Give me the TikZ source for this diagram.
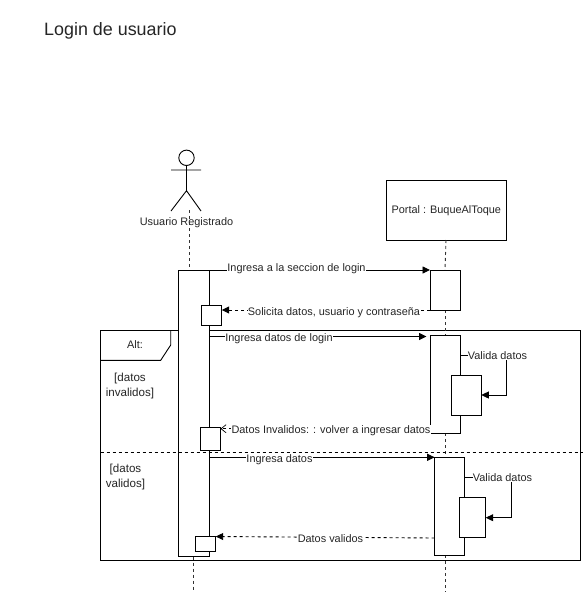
\documentclass[tikz,border=0pt]{standalone}
\usepackage{fontspec}
\setmainfont{Liberation Sans}
\usetikzlibrary{arrows.meta}
\newcommand{\mybox}[5]{\node[bx,anchor=north west,minimum width=#4pt,minimum height=#5pt] (#1) at (#2,#3) {};}
\tikzset{
  bx/.style={draw=black,fill=white,line width=0.9pt,inner sep=0pt,outer sep=0pt},
  msg/.style={draw=black,line width=0.9pt,-{Triangle[length=7.5pt,width=7pt]}},
  ret/.style={msg,dash pattern=on 3pt off 3pt},
  retopen/.style={draw=black,line width=0.8pt,dash pattern=on 3pt off 3pt,-{Straight Barb[length=5pt,width=8pt,line width=0.7pt]}},
  life/.style={draw=black!80,line width=0.9pt,dash pattern=on 3pt off 3pt},
  lbl/.style={font=\fontsize{10.9pt}{12pt}\selectfont,inner sep=0.3pt,text=black!85},
  lblw/.style={lbl,fill=white},
  cond/.style={lbl,align=center,font=\fontsize{11.6pt}{15.8pt}\selectfont}
}
\begin{document}
\begin{tikzpicture}[x=1pt,y=-1pt]
\useasboundingbox[fill=white] (0,0) rectangle (585,592);
\node[anchor=west,inner sep=0pt,font=\fontsize{17.9pt}{20pt}\selectfont,text=black!85] (title) at (44,31) {Login de usuario};
% frame
\mybox{frame}{100.5}{330.3}{480}{230}
\coordinate (tabA) at (170.7,330.3);
\coordinate (tabB) at (170.7,345);
\coordinate (tabC) at (160.7,360.3);
\coordinate (tabD) at (100.5,360.3);
\draw[line width=0.9pt] (tabA) -- (tabB) -- (tabC) -- (tabD);
\node[lbl] (alt) at (135,345) {Alt:};
\node[cond] (inv) at (130,386) {[datos\\invalidos]};
\node[cond] (val) at (125.5,477) {[datos\\validos]};
% actor
\node[draw=black,fill=white,circle,line width=0.9pt,minimum size=15.4pt,inner sep=0pt,outer sep=0pt] (head) at (186.5,157.8) {};
\coordinate (armL) at (171,170);
\coordinate (armR) at (201,170);
\coordinate (hip) at (186.5,190.7);
\coordinate (legL) at (171,211);
\coordinate (legR) at (201,211);
\draw[line width=0.9pt] (head.south) -- (hip) (armL) -- (armR) (legL) -- (hip) -- (legR);
\node[lbl] (user) at (186.5,223) {Usuario Registrado};
% portal
\mybox{portal}{386}{180}{120.5}{60}
\node[lbl] (plabel) at (446.3,210.5) {Portal : BuqueAlToque};
% lifelines
\coordinate (ut) at (189,210);
\coordinate (ub) at (189,270);
\coordinate (ue) at (193.5,590);
\coordinate (us) at (193.5,556.5);
\draw[life] (ut) -- (ub);
\draw[life] (us) -- (ue);
\coordinate (pa) at (446,240);
\coordinate (pb) at (445,270);
\coordinate (pc) at (445,310);
\coordinate (pd) at (445,335);
\coordinate (pe) at (445,433);
\coordinate (pf) at (445,457);
\coordinate (pg) at (445.5,555);
\coordinate (ph) at (445.5,592);
\draw[life] (pa) -- (pb);
\draw[life] (pc) -- (pd);
\draw[life] (pe) -- (pf);
\draw[life] (pg) -- (ph);
% activations
\mybox{ua}{178.3}{270}{30.7}{286.5}
\mybox{pa1}{430}{270}{30}{40}
\mybox{pa2}{430}{335.3}{30}{97.7}
\mybox{pa3}{434.7}{457.3}{29.8}{97.7}
\mybox{s1}{201}{305}{20.7}{20}
\mybox{s2}{200.3}{427.7}{20.2}{22.3}
\mybox{s3}{195.3}{536.3}{20.4}{15.4}
\mybox{i1}{451.3}{375.3}{30}{40.4}
\mybox{i2}{459.7}{497.3}{26}{40}
% divider
\coordinate (dl) at (100.5,452.3);
\coordinate (dr) at (583,452.3);
\draw[line width=0.8pt,dash pattern=on 3pt off 3pt] (dl) -- (dr);
% messages
\draw[msg] (ua.north east) -- (pa1.north west);
\draw[ret] (pa1.south west) -- (s1.east |- pa1.south west);
\coordinate (m3a) at (209,336.5);
\coordinate (m3b) at (426.5,336.5);
\draw[msg] (m3a) -- (m3b);
\coordinate (v1a) at (460,355);
\coordinate (v1b) at (506,355);
\coordinate (v1c) at (506,395);
\draw[msg] (v1a) -- (v1b) -- (v1c) -- (i1.east |- v1c);
\coordinate (m5a) at (430,428.7);
\draw[retopen] (m5a) -- (s2.east |- m5a);
\coordinate (m6a) at (209,457.3);
\draw[msg] (m6a) -- (pa3.north west);
\coordinate (v2a) at (464.5,477);
\coordinate (v2b) at (511,477);
\coordinate (v2c) at (511,517.7);
\draw[msg] (v2a) -- (v2b) -- (v2c) -- (i2.east |- v2c);
\coordinate (m8a) at (434.7,538);
\coordinate (m8b) at (215.7,536.5);
\draw[ret] (m8a) -- (m8b);
% labels
\node[lblw] (l1) at (296.5,269) {Ingresa a la seccion de login};
\node[lblw] (l2) at (334,312.5) {Solicita datos, usuario y contraseña};
\node[lblw] (l3) at (279,338.5) {Ingresa datos de login};
\node[lblw] (l4) at (497.5,355.5) {Valida datos};
\node[lblw] (l5) at (331,430.5) {Datos Invalidos: : volver a ingresar datos};
\node[lblw] (l6) at (279.5,459.5) {Ingresa datos};
\node[lblw] (l7) at (502.5,477.5) {Valida datos};
\node[lblw] (l8) at (330.5,538.5) {Datos validos};
\end{tikzpicture}
\end{document}
